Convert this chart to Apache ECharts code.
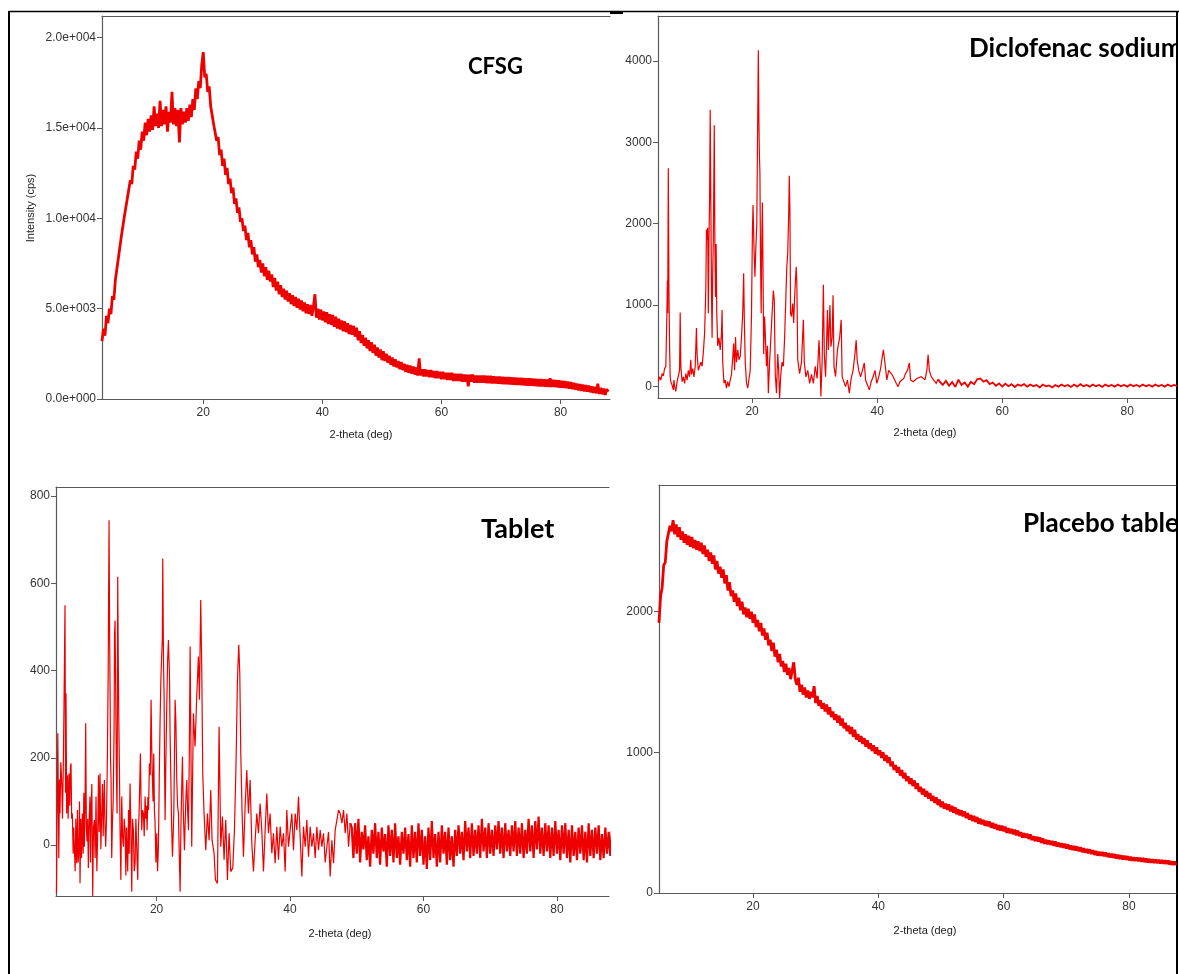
<!DOCTYPE html>
<html><head><meta charset="utf-8">
<script src="https://cdn.jsdelivr.net/npm/echarts@6/dist/echarts.min.js"></script>
<style>html,body{margin:0;padding:0;background:#fff}#c{width:1179px;height:974px}</style>
</head><body><div id="c"></div>
<script>
// ---------- tick values / labels ----------
const xTicks = [20, 40, 60, 80];
const ticksCFSG = [0, 5000, 10000, 15000, 20000];
const tickLabelsCFSG = ['0.0e+000', '5.0e+003', '1.0e+004', '1.5e+004', '2.0e+004'];
const ticksDiclo = [0, 1000, 2000, 3000, 4000];
const ticksTablet = [0, 200, 400, 600, 800];
const ticksPlacebo = [0, 1000, 2000];
const titles = ['CFSG', 'Diclofenac sodium', 'Tablet', 'Placebo table'];
const xName = '2-theta (deg)';
const yName = 'Intensity (cps)';

// ---------- CFSG: 2-theta from 3.0 every 0.25 deg (8 values = 2 deg per row) ----------
const cfsgStart = 3, cfsgStep = 0.25;
const cfsgY = [
 3200,3900,3500,4600,4200,5000,4700,5700,
 5500,6600,6600,7800,7900,9000,9000,10100,
 10000,11100,11000,12100,11900,12900,12700,13700,
 13300,14300,13800,14800,14300,15300,14600,15500,
 14800,15700,14900,16200,15100,15800,15000,16500,
 15100,16000,15200,16200,14800,15900,15300,17000,
 15200,16100,15100,16000,14200,16100,15200,15900,
 15300,16100,15400,16300,15600,16600,16000,17200,
 16600,17600,17200,18500,19200,17800,18000,17000,
 17300,16200,16300,15200,15300,14300,14500,13500,
 13800,12900,13300,12400,12800,11900,12200,11400,
 11700,10800,11100,10300,10600,9800,10000,9300,
 9600,8800,9200,8400,8800,8000,8400,7600,
 8000,7300,7700,7000,7500,6800,7300,6600,
 7100,6500,6900,6200,6700,6000,6500,5800,
 6300,5650,6100,5500,6000,5400,5850,5250,
 5750,5150,5650,5050,5550,4950,5450,4850,
 5350,4750,5250,4700,5200,4600,5100,5800,
 4500,5000,4400,4950,4350,4850,4250,4800,
 4150,4700,4100,4650,4000,4550,3900,4450,
 3850,4350,3750,4300,3700,4200,3600,4100,
 3550,4050,3450,3950,3250,3750,3100,3550,
 2950,3400,2800,3250,2650,3150,2550,3000,
 2400,2850,2300,2750,2150,2650,2100,2500,
 2000,2400,1900,2300,1800,2200,1750,2100,
 1650,2050,1600,1950,1500,1900,1450,1850,
 1400,1800,1350,1750,1300,2250,1300,1650,
 1250,1650,1250,1600,1200,1600,1200,1550,
 1150,1550,1150,1500,1100,1500,1100,1450,
 1050,1450,1050,1450,1000,1400,1000,1400,
 1000,1400,950,1350,950,1350,700,1350,
 950,1350,900,1300,900,1300,900,1300,
 900,1300,880,1280,880,1280,860,1260,
 860,1250,840,1250,830,1230,820,1220,
 820,1220,800,1200,790,1190,780,1180,
 780,1170,760,1160,750,1150,740,1140,
 740,1130,720,1120,710,1110,700,1100,
 700,1090,680,1080,670,1150,660,1060,
 660,1050,640,1030,630,1010,610,990,
 600,970,570,940,540,900,510,860,
 480,830,450,800,420,770,400,740,
 370,700,340,680,310,850,280,620,
 260,580,230,550,400
];

// ---------- Diclofenac sodium: [2-theta, intensity] peak region ----------
const dicloPeaks = [
 [5.0,60],[5.2,120],[5.4,80],[5.6,160],[5.8,130],[6.0,220],[6.2,250],[6.35,800],[6.45,1300],[6.5,900],
 [6.6,2680],[6.7,1200],[6.8,500],[6.9,120],[7.0,60],[7.2,20],[7.4,-40],[7.5,80],[7.6,10],[7.8,-60],
 [8.0,60],[8.2,40],[8.4,200],[8.5,910],[8.6,250],[8.8,60],[9.0,120],[9.2,40],[9.4,160],[9.6,80],
 [9.8,200],[10.0,120],[10.2,330],[10.3,150],[10.5,220],[10.7,120],[10.9,250],[11.1,720],[11.2,400],[11.4,200],
 [11.6,180],[11.8,300],[12.0,250],[12.2,420],[12.4,650],[12.6,1200],[12.7,1930],[12.8,1800],[12.9,1950],[13.0,900],
 [13.1,1800],[13.2,2300],[13.3,3400],[13.4,2290],[13.5,1200],[13.6,600],[13.7,1400],[13.8,1800],[13.95,3210],[14.05,1760],
 [14.15,1100],[14.25,1750],[14.35,900],[14.5,500],[14.7,600],[14.9,450],[15.1,650],[15.2,940],[15.3,300],[15.5,40],
 [15.7,80],[15.9,-20],[16.1,60],[16.3,0],[16.5,80],[16.7,150],[16.9,350],[17.05,530],[17.2,200],[17.35,610],
 [17.5,300],[17.7,450],[17.9,330],[18.1,370],[18.3,600],[18.5,900],[18.65,1390],[18.75,860],[18.9,300],[19.1,50],
 [19.3,-20],[19.5,-40],[19.7,200],[19.9,860],[20.05,1900],[20.15,2230],[20.3,1720],[20.45,1350],[20.6,1700],[20.75,2000],
 [20.9,3300],[21.0,4130],[21.08,3320],[21.15,2910],[21.25,2620],[21.35,1560],[21.45,900],[21.55,1800],[21.65,2260],[21.75,1400],
 [21.85,400],[22.0,860],[22.15,560],[22.3,250],[22.45,500],[22.6,-80],[22.8,300],[23.0,600],[23.2,900],[23.4,1180],
 [23.55,1060],[23.7,160],[23.9,-80],[24.1,400],[24.25,200],[24.4,-140],[24.6,160],[24.8,300],[25.0,250],[25.2,600],
 [25.4,1100],[25.55,1470],[25.7,1640],[25.85,2100],[25.95,2590],[26.05,2170],[26.15,900],[26.3,860],[26.5,1020],[26.65,780],
 [26.8,1100],[27.05,1470],[27.15,1300],[27.3,330],[27.6,160],[27.9,300],[28.2,820],[28.35,300],[28.6,120],[28.9,200],
 [29.2,40],[29.5,150],[29.8,40],[30.1,250],[30.4,100],[30.7,570],[30.9,200],[31.0,-120],[31.2,300],[31.4,1250],
 [31.55,400],[31.75,120],[31.9,500],[32.05,940],[32.2,450],[32.45,1000],[32.6,490],[32.8,600],[32.95,1120],[33.1,245],
 [33.35,123],[33.65,450],[34.0,600],[34.25,820],[34.4,123],[34.65,100],[34.95,0],[35.25,80],[35.55,-80],[35.85,100],
 [36.15,200],[36.45,400],[36.65,570],[36.8,330],[37.05,200],[37.35,120],[37.65,200],[37.95,290],[38.15,80],[38.45,60],
 [38.75,-40],[39.05,60],[39.35,120],[39.65,200],[39.95,40],[40.25,120],[40.55,220],[40.85,380],[41.0,450],[41.25,290],
 [41.55,82],[41.85,200],[42.15,180],[42.45,140],[42.75,160],[43.05,40],[43.35,0],[43.65,60],[43.95,40],[44.25,100],
 [44.55,160],[44.85,200],[45.15,290],[45.35,82],[45.75,60],[46.05,40],[46.35,100],[46.65,80],[47.05,123],[47.35,100],
 [47.65,82],[47.95,200],[48.15,390],[48.35,200],[48.65,123],[49.05,80],[49.45,40],[49.75,90]
];
// Diclofenac baseline: 2-theta from 50.0 every 0.5 deg
const dicloTailStart = 50, dicloTailStep = 0.5;
const dicloTailY = [
 60,20,70,10,55,-5,85,20,50,0,
 60,30,90,100,60,80,30,50,10,40,
 0,35,5,30,-5,25,10,30,0,25,
 5,20,-10,25,5,15,-10,20,0,25,
 5,20,-5,25,0,30,5,20,0,25,
 5,20,-5,25,5,20,0,25,5,20,
 0,25,5,20,0,25,5,20,0,25,
 5,20,0,25,5,20,5
];

// ---------- Tablet: [2-theta, intensity] peak region ----------
const tabletPeaks = [
 [5.0,-110],[5.1,80],[5.2,256],[5.35,-30],[5.45,150],[5.53,72],[5.65,190],[5.78,149],[5.9,60],[6.03,187],
 [6.15,350],[6.28,550],[6.36,120],[6.43,348],[6.53,72],[6.65,160],[6.75,60],[6.88,164],[7.0,90],[7.1,180],
 [7.18,187],[7.28,60],[7.38,72],[7.5,-20],[7.58,40],[7.68,-4],[7.8,-60],[7.9,60],[8.03,-42],[8.15,80],
 [8.25,-40],[8.38,-4],[8.45,100],[8.53,-88],[8.65,60],[8.75,-30],[8.88,72],[9.0,-20],[9.1,120],[9.18,-4],
 [9.28,80],[9.38,279],[9.48,40],[9.58,8],[9.68,60],[9.78,-53],[9.9,60],[10.03,111],[10.1,-40],[10.18,72],
 [10.3,140],[10.43,-117],[10.55,40],[10.68,57],[10.8,-30],[10.93,111],[11.05,-60],[11.18,27],[11.3,160],[11.4,30],
 [11.53,164],[11.65,-10],[11.78,72],[11.9,140],[12.0,20],[12.1,100],[12.18,149],[12.28,40],[12.38,-4],[12.5,60],
 [12.63,203],[12.75,390],[12.88,745],[12.96,500],[13.03,363],[13.1,200],[13.18,149],[13.28,-30],[13.38,50],[13.5,100],
 [13.63,256],[13.7,480],[13.78,515],[13.85,400],[13.93,256],[14.0,150],[14.08,72],[14.13,300],[14.18,615],[14.25,450],
 [14.33,302],[14.43,180],[14.53,34],[14.65,-80],[14.78,111],[14.9,20],[15.03,-4],[15.15,60],[15.28,34],[15.4,-70],
 [15.5,40],[15.68,-61],[15.8,80],[15.9,-20],[16.03,141],[16.15,40],[16.28,-107],[16.4,60],[16.53,34],[16.65,-60],
 [16.78,-42],[16.9,60],[17.05,-20],[17.18,-80],[17.28,40],[17.38,72],[17.48,140],[17.58,210],[17.68,100],[17.78,34],
 [17.9,80],[18.03,72],[18.15,20],[18.28,111],[18.4,60],[18.5,90],[18.58,34],[18.7,110],[18.8,80],[18.93,187],
 [19.05,160],[19.18,333],[19.28,220],[19.38,149],[19.48,100],[19.58,210],[19.68,80],[19.78,50],[19.9,-40],[20.03,27],
 [20.15,-60],[20.28,-4],[20.4,150],[20.53,287],[20.65,380],[20.78,440],[20.86,470],[20.93,657],[21.0,500],[21.06,400],
 [21.13,341],[21.2,180],[21.28,57],[21.4,200],[21.53,318],[21.65,420],[21.78,470],[21.85,430],[21.93,394],[22.03,250],
 [22.13,164],[22.25,50],[22.38,-27],[22.48,20],[22.58,72],[22.68,200],[22.78,333],[22.9,280],[23.03,149],[23.15,90],
 [23.28,72],[23.4,-20],[23.53,-107],[23.65,40],[23.75,120],[23.88,203],[24.0,80],[24.18,-12],[24.3,60],[24.43,120],
 [24.53,149],[24.65,80],[24.78,34],[24.9,200],[25.03,455],[25.27,-4],[25.52,302],[25.77,226],[26.02,341],[26.27,432],
 [26.42,333],[26.62,562],[26.77,409],[26.92,164],[27.12,72],[27.37,-12],[27.62,72],[27.87,11],[28.12,126],[28.32,11],
 [28.62,-19],[28.82,-80],[29.12,-88],[29.37,271],[29.62,-4],[29.87,65],[30.12,-34],[30.37,57],[30.62,-80],[30.87,27],
 [31.12,-61],[31.42,-53],[31.67,34],[31.92,195],[32.12,379],[32.32,459],[32.47,394],[32.62,210],[32.82,72],[33.02,-27],
 [33.27,88],[33.52,172],[33.77,72],[34.02,149],[34.27,4],[34.52,-61],[34.77,11],[35.02,72],[35.27,27],[35.52,95],
 [35.77,34],[36.02,-61],[36.27,34],[36.52,118],[36.77,27],[37.02,72],[37.27,-19],[37.52,27],[37.77,-42],[38.02,42],
 [38.27,-34],[38.52,42],[38.77,-4],[39.02,27],[39.27,-61],[39.52,80],[39.77,-4],[40.02,34],[40.27,72],[40.52,-12],
 [40.77,72],[41.02,34],[41.27,111],[41.52,19],[41.77,-72],[42.02,42],[42.27,-4],[42.52,57],[42.77,-27],[43.02,42],
 [43.27,-4],[43.52,27],[43.77,-30],[44.02,42],[44.27,-12],[44.52,34],[44.77,-4],[45.02,27],[45.27,-40],[45.52,-4],
 [45.77,30],[46.02,-72],[46.27,11],[46.52,-42],[46.77,34],[47.02,57],[47.27,80],[47.52,72],[47.77,50],[48.02,80],
 [48.27,27],[48.52,72],[48.77,-4],[49.02,50]
];
// Tablet baseline: 2-theta from 49.25 every 0.25 deg
const tabletTailStart = 49.25, tabletTailStep = 0.25;
const tabletTailY = [
 40,-30,50,-20,60,-40,30,-10,
 45,-35,20,-50,35,-20,50,-30,
 30,-45,40,-15,25,-50,45,-25,
 35,-40,50,-30,20,-45,30,-20,
 40,-35,25,-50,45,-30,30,-40,
 50,-25,35,-45,20,-55,40,-35,
 55,-30,25,-50,30,-40,45,-20,
 30,-45,40,-35,20,-50,35,-25,
 45,-20,30,-35,55,-15,40,-30,
 50,-25,35,-20,45,-30,60,-15,
 40,-30,50,-20,35,-25,45,-10,
 55,-20,40,-30,50,-15,35,-25,
 45,-15,55,-25,40,-20,50,-30,
 35,-20,60,-15,45,-30,55,-10,
 65,-20,40,-25,50,-15,45,-30,
 40,-25,55,-20,35,-35,45,-20,
 50,-30,35,-40,45,-25,30,-35,
 40,-20,45,-35,30,-40,50,-25,
 35,-30,40,-20,45,-35,25,-30,
 40,-20,30,-25,35
];

// ---------- Placebo tablet: 2-theta from 5.0 every 0.25 deg (2 deg per row) ----------
const placeboStart = 5, placeboStep = 0.25;
const placeboY = [
 1920,2110,2170,2330,2350,2500,2510,2610,
 2570,2650,2550,2620,2530,2600,2510,2570,
 2490,2550,2475,2540,2460,2530,2450,2510,
 2440,2500,2430,2490,2410,2470,2390,2440,
 2360,2420,2340,2400,2300,2360,2270,2320,
 2240,2300,2200,2260,2150,2210,2110,2150,
 2070,2130,2040,2100,2010,2070,1980,2030,
 1960,2020,1950,2000,1920,1980,1890,1940,
 1860,1920,1830,1880,1800,1850,1760,1800,
 1720,1780,1680,1730,1640,1700,1610,1650,
 1570,1630,1550,1600,1520,1580,1640,1520,
 1480,1530,1430,1480,1410,1460,1390,1440,
 1380,1430,1390,1470,1350,1400,1330,1370,
 1310,1350,1290,1340,1270,1320,1250,1290,
 1230,1270,1210,1260,1190,1240,1170,1210,
 1150,1190,1130,1180,1110,1160,1090,1130,
 1075,1115,1060,1100,1040,1085,1025,1065,
 1010,1050,990,1035,980,1015,960,1000,
 940,980,925,965,900,935,875,910,
 855,895,835,875,815,855,795,830,
 775,815,760,800,740,780,720,755,
 700,740,685,725,670,710,655,690,
 640,680,625,665,610,650,600,635,
 590,630,580,620,570,610,560,595,
 552,588,545,580,532,568,522,555,
 512,548,505,540,492,528,488,520,
 478,512,474,508,464,498,458,490,
 448,482,444,478,438,472,428,460,
 424,456,418,450,410,444,404,432,
 394,426,392,422,384,416,376,404,
 370,400,366,396,356,388,350,378,
 346,374,342,370,336,366,330,358,
 326,354,322,350,316,346,310,338,
 306,334,302,330,296,326,290,318,
 287,313,282,310,277,304,271,298,
 267,293,265,292,262,288,257,282,
 252,278,250,276,245,272,242,268,
 238,264,236,262,232,258,230,254,
 228,252,226,250,222,248,220,244,
 218,242,216,240,214,238,212,236,
 210,234,208,232,206,230,202,226,
 200,224,198
];

// ---------- build ----------
function seq(start, step, ys) { return ys.map((y, i) => [+(start + i * step).toFixed(3), y]); }
const cfsgData = seq(cfsgStart, cfsgStep, cfsgY);
const dicloTail = [dicloPeaks[dicloPeaks.length - 1]].concat(seq(dicloTailStart, dicloTailStep, dicloTailY));
const tabletTail = [tabletPeaks[tabletPeaks.length - 1]].concat(seq(tabletTailStart, tabletTailStep, tabletTailY));
const placeboData = seq(placeboStart, placeboStep, placeboY);

const RED = '#ee0000';
const AX = '#5a5a5a';
const LBL = {color: '#333', fontSize: 12, fontFamily: 'Liberation Sans, Arial, sans-serif'};

function xAx(gi, min, max) {
  return {type: 'value', gridIndex: gi, min: min, max: max,
    axisLine: {show: true, onZero: false, lineStyle: {color: AX, width: 1.2}},
    axisTick: {show: true, length: 5, customValues: xTicks, lineStyle: {color: AX}},
    axisLabel: Object.assign({customValues: xTicks, margin: 8}, LBL),
    splitLine: {show: false}};
}
function topAx(gi, min, max) {
  return {type: 'value', gridIndex: gi, min: min, max: max, position: 'top',
    axisLine: {show: true, onZero: false, lineStyle: {color: AX, width: 1.2}},
    axisTick: {show: false}, axisLabel: {show: false}, splitLine: {show: false}};
}
function yAx(gi, min, max, ticks, fmt) {
  return {type: 'value', gridIndex: gi, min: min, max: max,
    axisLine: {show: true, onZero: false, lineStyle: {color: AX, width: 1.2}},
    axisTick: {show: true, length: 5, customValues: ticks, lineStyle: {color: AX}},
    axisLabel: Object.assign({customValues: ticks, margin: 6, formatter: fmt}, LBL),
    splitLine: {show: false}};
}
function ser(i, data, w) {
  return {type: 'line', xAxisIndex: i, yAxisIndex: i, data: data, showSymbol: false, symbol: 'none',
    silent: true, animation: false, clip: true, lineStyle: {color: RED, width: w, join: 'miter', miterLimit: 2}};
}
function txt(x, y, text, font) {
  return {type: 'text', x: x, y: y, silent: true,
    style: {text: text, font: font, fill: '#000', align: 'left', verticalAlign: 'middle'}};
}
function nameTxt(x, y, text, rot) {
  return {type: 'text', x: x, y: y, silent: true, rotation: rot || 0,
    style: {text: text, font: NAME_FONT, fill: '#222', align: 'center', verticalAlign: 'middle'}};
}
function ln(x1, y1, x2, y2, w) {
  return {type: 'line', silent: true, shape: {x1: x1, y1: y1, x2: x2, y2: y2}, style: {stroke: '#000', lineWidth: w}};
}

const NAME_FONT = '11px "Liberation Sans", Arial, sans-serif';
const FONT_S = 'bold 22px Lato, "Open Sans", sans-serif';
const FONT_M = 'bold 26px Lato, "Open Sans", sans-serif';
const FONT_L = 'bold 27px Lato, "Open Sans", sans-serif';

const option = {
  backgroundColor: '#fff',
  animation: false,
  grid: [
    {left: 102, top: 16, width: 508, height: 383},
    {left: 658, top: 16, width: 518, height: 382},
    {left: 56, top: 487, width: 553, height: 409},
    {left: 659, top: 485, width: 517, height: 408}
  ],
  xAxis: [
    xAx(0, 3, 88.3), xAx(1, 4.95, 87.8), xAx(2, 4.93, 87.8), xAx(3, 5, 87.5),
    topAx(0, 3, 88.3), topAx(1, 4.95, 87.8), topAx(2, 4.93, 87.8), topAx(3, 5, 87.5)
  ],
  yAxis: [
    yAx(0, 0, 21200, ticksCFSG, v => tickLabelsCFSG[ticksCFSG.indexOf(v)]),
    yAx(1, -140, 4550, ticksDiclo, v => String(v)),
    yAx(2, -117, 821, ticksTablet, v => String(v)),
    yAx(3, 0, 2900, ticksPlacebo, v => String(v))
  ],
  series: [
    ser(0, cfsgData, 2.8),
    ser(1, dicloPeaks, 1.2),
    ser(1, dicloTail, 1.8),
    ser(2, tabletPeaks, 1.2),
    ser(2, tabletTail, 2.2),
    ser(3, placeboData, 2.8)
  ],
  graphic: [
    txt(468, 67, titles[0], FONT_S),
    txt(969, 49, titles[1], FONT_M),
    txt(481, 529, titles[2], FONT_L),
    txt(1023, 524, titles[3], FONT_M),
    nameTxt(361, 435, xName),
    nameTxt(925, 433, xName),
    nameTxt(340, 934, xName),
    nameTxt(925, 931, xName),
    nameTxt(31, 208, yName, Math.PI / 2),
    {type: 'rect', silent: true, shape: {x: 1178, y: 0, width: 10, height: 974}, style: {fill: '#fff'}},
    ln(9, 11.5, 1179, 11.5, 1.5),
    ln(610, 12.5, 623, 12.5, 3),
    ln(9, 11, 9, 974, 2),
    ln(1177, 11, 1177, 974, 2)
  ]
};
const chart = echarts.init(document.getElementById('c'));
chart.setOption(option);
</script>
</body></html>
